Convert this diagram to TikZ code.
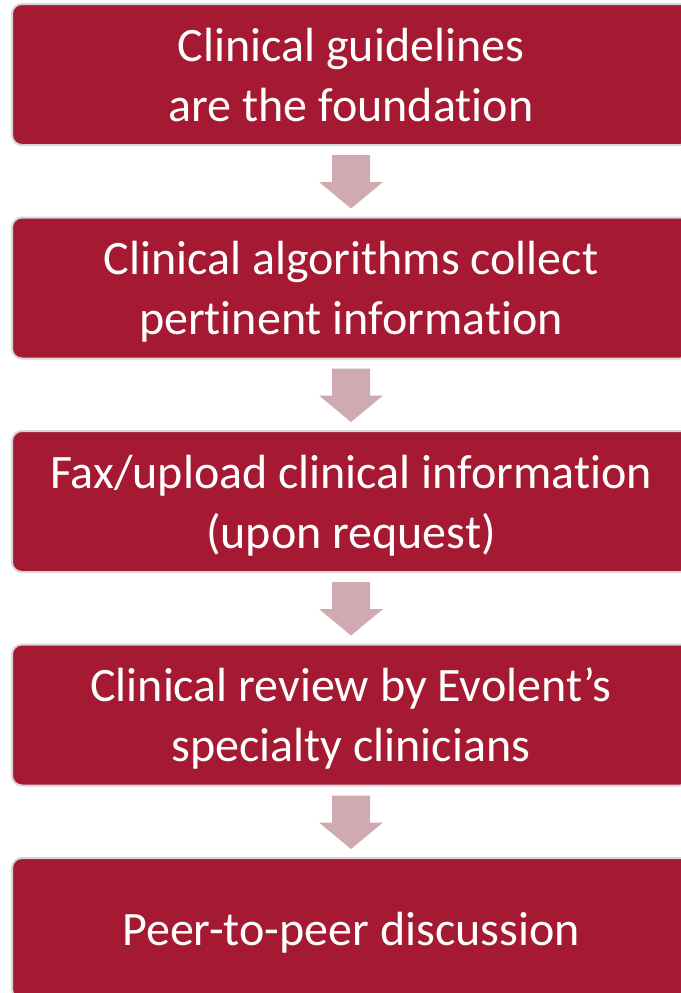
\documentclass[tikz,border=0pt]{standalone}
\usepackage{fontspec}
\setmainfont{Carlito}[Ligatures=NoCommon]
\usetikzlibrary{positioning,calc}

\definecolor{boxred}{HTML}{A51A32}
\definecolor{boxrim}{HTML}{D6D6D6}
\definecolor{arrowpink}{HTML}{CFAAB0}

\tikzset{
  stepbox/.style={draw=boxrim,line width=2pt,fill=boxred,rounded corners=10pt,
    minimum width=678pt,minimum height=141pt,text=white,align=center,
    text depth=0pt,font=\fontsize{48}{60}\selectfont},
  flowarrow/.style={fill=arrowpink}
}

\begin{document}
\begin{tikzpicture}[x=1pt,y=1pt]
\useasboundingbox (0,0) rectangle (680,-993);

\node[stepbox] (b1) at (351,-74.5) {Clinical guidelines\\are the foundation};
\node[stepbox,below=70.5pt of b1] (b2) {Clinical algorithms collect\\pertinent information};
\node[stepbox,below=70.5pt of b2] (b3) {Fax/upload clinical information\\(upon request)};
\node[stepbox,below=70.5pt of b3] (b4) {Clinical review by Evolent's\\specialty clinicians};
\node[stepbox,below=70.5pt of b4] (b5) {Peer-to-peer discussion};

% block arrows between the steps
\foreach \a/\b in {b1/b2,b2/b3,b3/b4,b4/b5}
  \fill[flowarrow] ($(\a.south)+(-19,-9)$) -- ++(38,0) -- ++(0,-27) -- ++(13,0)
    -- ($(\b.north)+(0,8)$) -- ($(\a.south)+(-32,-36)$) -- ++(13,0) -- cycle;

\end{tikzpicture}
\end{document}
